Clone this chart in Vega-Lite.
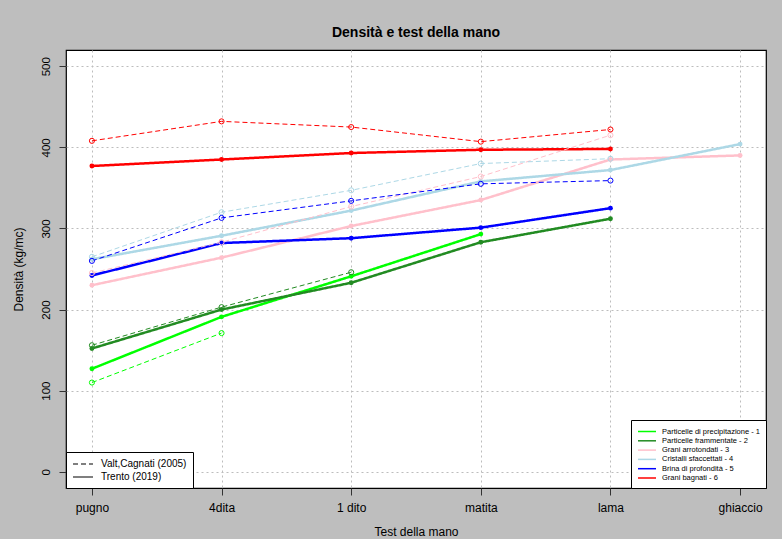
{
  "$schema": "https://vega.github.io/schema/vega-lite/v6.json",
  "width": 700,
  "height": 438,
  "autosize": {"type": "none"},
  "padding": {"left": 66, "top": 50, "right": 16, "bottom": 51},
  "background": "#BEBEBE",
  "title": {"text": "Densità e test della mano", "font": "Liberation Sans", "fontSize": 14, "fontWeight": "bold", "color": "black", "offset": 10, "anchor": "middle"},
  "config": {
    "view": {"fill": "white", "stroke": "black", "strokeWidth": 1.2},
    "font": "Liberation Sans"
  },
  "data": {"values": [
    {"test": "pugno", "serie": "Particelle di precipitazione - 1", "fonte": "Trento (2019)", "densita": 127},
    {"test": "4dita", "serie": "Particelle di precipitazione - 1", "fonte": "Trento (2019)", "densita": 191},
    {"test": "1 dito", "serie": "Particelle di precipitazione - 1", "fonte": "Trento (2019)", "densita": 241},
    {"test": "matita", "serie": "Particelle di precipitazione - 1", "fonte": "Trento (2019)", "densita": 293},
    {"test": "pugno", "serie": "Particelle frammentate - 2", "fonte": "Trento (2019)", "densita": 152},
    {"test": "4dita", "serie": "Particelle frammentate - 2", "fonte": "Trento (2019)", "densita": 200},
    {"test": "1 dito", "serie": "Particelle frammentate - 2", "fonte": "Trento (2019)", "densita": 233},
    {"test": "matita", "serie": "Particelle frammentate - 2", "fonte": "Trento (2019)", "densita": 283},
    {"test": "lama", "serie": "Particelle frammentate - 2", "fonte": "Trento (2019)", "densita": 312},
    {"test": "pugno", "serie": "Grani arrotondati - 3", "fonte": "Trento (2019)", "densita": 230},
    {"test": "4dita", "serie": "Grani arrotondati - 3", "fonte": "Trento (2019)", "densita": 264},
    {"test": "1 dito", "serie": "Grani arrotondati - 3", "fonte": "Trento (2019)", "densita": 303},
    {"test": "matita", "serie": "Grani arrotondati - 3", "fonte": "Trento (2019)", "densita": 335},
    {"test": "lama", "serie": "Grani arrotondati - 3", "fonte": "Trento (2019)", "densita": 385},
    {"test": "ghiaccio", "serie": "Grani arrotondati - 3", "fonte": "Trento (2019)", "densita": 390},
    {"test": "pugno", "serie": "Cristalli sfaccettati - 4", "fonte": "Trento (2019)", "densita": 262},
    {"test": "4dita", "serie": "Cristalli sfaccettati - 4", "fonte": "Trento (2019)", "densita": 291},
    {"test": "1 dito", "serie": "Cristalli sfaccettati - 4", "fonte": "Trento (2019)", "densita": 322},
    {"test": "matita", "serie": "Cristalli sfaccettati - 4", "fonte": "Trento (2019)", "densita": 358},
    {"test": "lama", "serie": "Cristalli sfaccettati - 4", "fonte": "Trento (2019)", "densita": 372},
    {"test": "ghiaccio", "serie": "Cristalli sfaccettati - 4", "fonte": "Trento (2019)", "densita": 404},
    {"test": "pugno", "serie": "Brina di profondità - 5", "fonte": "Trento (2019)", "densita": 242},
    {"test": "4dita", "serie": "Brina di profondità - 5", "fonte": "Trento (2019)", "densita": 282},
    {"test": "1 dito", "serie": "Brina di profondità - 5", "fonte": "Trento (2019)", "densita": 288},
    {"test": "matita", "serie": "Brina di profondità - 5", "fonte": "Trento (2019)", "densita": 301},
    {"test": "lama", "serie": "Brina di profondità - 5", "fonte": "Trento (2019)", "densita": 325},
    {"test": "pugno", "serie": "Grani bagnati - 6", "fonte": "Trento (2019)", "densita": 377},
    {"test": "4dita", "serie": "Grani bagnati - 6", "fonte": "Trento (2019)", "densita": 385},
    {"test": "1 dito", "serie": "Grani bagnati - 6", "fonte": "Trento (2019)", "densita": 393},
    {"test": "matita", "serie": "Grani bagnati - 6", "fonte": "Trento (2019)", "densita": 397},
    {"test": "lama", "serie": "Grani bagnati - 6", "fonte": "Trento (2019)", "densita": 398},
    {"test": "pugno", "serie": "Particelle di precipitazione - 1", "fonte": "Valt,Cagnati (2005)", "densita": 110},
    {"test": "4dita", "serie": "Particelle di precipitazione - 1", "fonte": "Valt,Cagnati (2005)", "densita": 171},
    {"test": "pugno", "serie": "Particelle frammentate - 2", "fonte": "Valt,Cagnati (2005)", "densita": 156},
    {"test": "4dita", "serie": "Particelle frammentate - 2", "fonte": "Valt,Cagnati (2005)", "densita": 203},
    {"test": "1 dito", "serie": "Particelle frammentate - 2", "fonte": "Valt,Cagnati (2005)", "densita": 246},
    {"test": "pugno", "serie": "Grani arrotondati - 3", "fonte": "Valt,Cagnati (2005)", "densita": 245},
    {"test": "4dita", "serie": "Grani arrotondati - 3", "fonte": "Valt,Cagnati (2005)", "densita": 283},
    {"test": "1 dito", "serie": "Grani arrotondati - 3", "fonte": "Valt,Cagnati (2005)", "densita": 327},
    {"test": "matita", "serie": "Grani arrotondati - 3", "fonte": "Valt,Cagnati (2005)", "densita": 364},
    {"test": "lama", "serie": "Grani arrotondati - 3", "fonte": "Valt,Cagnati (2005)", "densita": 415},
    {"test": "pugno", "serie": "Cristalli sfaccettati - 4", "fonte": "Valt,Cagnati (2005)", "densita": 265},
    {"test": "4dita", "serie": "Cristalli sfaccettati - 4", "fonte": "Valt,Cagnati (2005)", "densita": 320},
    {"test": "1 dito", "serie": "Cristalli sfaccettati - 4", "fonte": "Valt,Cagnati (2005)", "densita": 347},
    {"test": "matita", "serie": "Cristalli sfaccettati - 4", "fonte": "Valt,Cagnati (2005)", "densita": 380},
    {"test": "lama", "serie": "Cristalli sfaccettati - 4", "fonte": "Valt,Cagnati (2005)", "densita": 386},
    {"test": "pugno", "serie": "Brina di profondità - 5", "fonte": "Valt,Cagnati (2005)", "densita": 260},
    {"test": "4dita", "serie": "Brina di profondità - 5", "fonte": "Valt,Cagnati (2005)", "densita": 313},
    {"test": "1 dito", "serie": "Brina di profondità - 5", "fonte": "Valt,Cagnati (2005)", "densita": 334},
    {"test": "matita", "serie": "Brina di profondità - 5", "fonte": "Valt,Cagnati (2005)", "densita": 355},
    {"test": "lama", "serie": "Brina di profondità - 5", "fonte": "Valt,Cagnati (2005)", "densita": 359},
    {"test": "pugno", "serie": "Grani bagnati - 6", "fonte": "Valt,Cagnati (2005)", "densita": 408},
    {"test": "4dita", "serie": "Grani bagnati - 6", "fonte": "Valt,Cagnati (2005)", "densita": 432},
    {"test": "1 dito", "serie": "Grani bagnati - 6", "fonte": "Valt,Cagnati (2005)", "densita": 425},
    {"test": "matita", "serie": "Grani bagnati - 6", "fonte": "Valt,Cagnati (2005)", "densita": 407},
    {"test": "lama", "serie": "Grani bagnati - 6", "fonte": "Valt,Cagnati (2005)", "densita": 422}
  ]},
  "encoding": {
    "x": {
      "field": "test", "type": "ordinal",
      "scale": {"type": "point", "domain": ["pugno", "4dita", "1 dito", "matita", "lama", "ghiaccio"], "padding": 0.2},
      "axis": {
        "title": "Test della mano", "titleFont": "Liberation Sans", "titleFontSize": 12, "titleFontWeight": "normal", "titleColor": "black",
        "titleX": 350, "titleY": 43, "titleBaseline": "middle",
        "labelAngle": 0, "labelFont": "Liberation Sans", "labelFontSize": 12, "labelColor": "black", "labelPadding": 7,
        "domain": false, "tickColor": "#333333", "tickSize": 7, "tickWidth": 1,
        "grid": true, "gridColor": "#BDBDBD", "gridDash": [2, 3], "gridWidth": 1
      }
    },
    "y": {
      "field": "densita", "type": "quantitative",
      "scale": {"domain": [-20, 520], "nice": false, "zero": false},
      "axis": {
        "title": "Densità (kg/mc)", "titleFont": "Liberation Sans", "titleFontSize": 12, "titleFontWeight": "normal", "titleColor": "black",
        "titleX": -48, "titleY": 219, "titleAngle": 270, "titleAlign": "center", "titleBaseline": "middle",
        "values": [0, 100, 200, 300, 400, 500],
        "labelAngle": 270, "labelAlign": "center", "labelBaseline": "bottom", "labelFont": "Liberation Sans", "labelFontSize": 11.5, "labelColor": "black", "labelPadding": 8,
        "domain": false, "tickColor": "#333333", "tickSize": 7, "tickWidth": 1,
        "grid": true, "gridColor": "#BDBDBD", "gridDash": [2, 3], "gridWidth": 1
      }
    }
  },
  "layer": [
    {
      "mark": {"type": "line"},
      "encoding": {
        "color": {
          "field": "serie", "type": "nominal",
          "scale": {"domain": ["Particelle di precipitazione - 1", "Particelle frammentate - 2", "Grani arrotondati - 3", "Cristalli sfaccettati - 4", "Brina di profondità - 5", "Grani bagnati - 6"],
                    "range": ["#00FF00", "#228B22", "#FFC0CB", "#ADD8E6", "#0000FF", "#FF0000"]},
          "legend": {
            "title": null, "orient": "bottom-right", "offset": 0, "padding": 6,
            "strokeColor": "black", "fillColor": "white", "cornerRadius": 0,
            "symbolType": "M-1,0H3", "symbolSize": 81, "symbolStrokeWidth": 1.5,
            "labelFont": "Liberation Sans", "labelFontSize": 7.5, "labelColor": "black",
            "rowPadding": 0.3, "labelOffset": 14
          }
        },
        "strokeDash": {
          "field": "fonte", "type": "nominal",
          "scale": {"domain": ["Valt,Cagnati (2005)", "Trento (2019)"], "range": [[5, 3], [1, 0]]},
          "legend": {
            "title": null, "orient": "bottom-left", "offset": 0, "padding": 6,
            "strokeColor": "black", "fillColor": "white", "cornerRadius": 0,
            "symbolType": "M-1,0H3", "symbolSize": 100, "symbolStrokeWidth": 1.2, "symbolStrokeColor": "black",
            "symbolDash": [3, 3],
            "labelFont": "Liberation Sans", "labelFontSize": 10, "labelColor": "black",
            "rowPadding": 2, "labelOffset": 17
          }
        },
        "strokeWidth": {
          "condition": {"test": "datum.fonte === 'Trento (2019)'", "value": 2.5},
          "value": 1
        }
      }
    },
    {
      "transform": [{"filter": "datum.fonte === 'Trento (2019)'"}],
      "mark": {"type": "point", "filled": true, "opacity": 1, "size": 24},
      "encoding": {
        "color": {
          "field": "serie", "type": "nominal",
          "scale": {"domain": ["Particelle di precipitazione - 1", "Particelle frammentate - 2", "Grani arrotondati - 3", "Cristalli sfaccettati - 4", "Brina di profondità - 5", "Grani bagnati - 6"],
                    "range": ["#00FF00", "#228B22", "#FFC0CB", "#ADD8E6", "#0000FF", "#FF0000"]},
          "legend": null
        }
      }
    },
    {
      "transform": [{"filter": "datum.fonte === 'Valt,Cagnati (2005)'"}],
      "mark": {"type": "point", "filled": false, "opacity": 1, "size": 26, "strokeWidth": 1},
      "encoding": {
        "color": {
          "field": "serie", "type": "nominal",
          "scale": {"domain": ["Particelle di precipitazione - 1", "Particelle frammentate - 2", "Grani arrotondati - 3", "Cristalli sfaccettati - 4", "Brina di profondità - 5", "Grani bagnati - 6"],
                    "range": ["#00FF00", "#228B22", "#FFC0CB", "#ADD8E6", "#0000FF", "#FF0000"]},
          "legend": null
        }
      }
    }
  ],
  "resolve": {"scale": {"color": "independent"}}
}
